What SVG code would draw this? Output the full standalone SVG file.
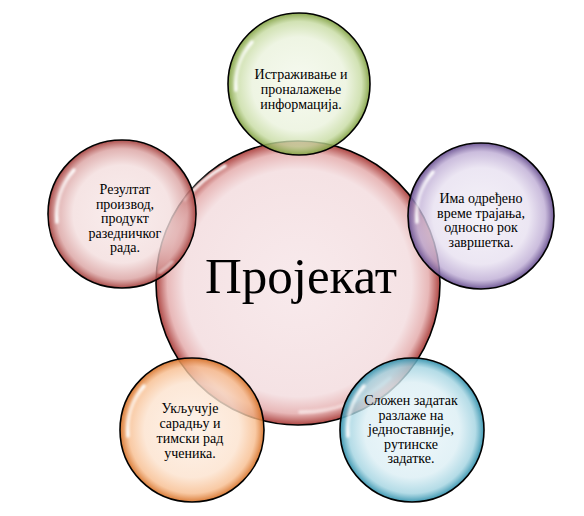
<svg xmlns="http://www.w3.org/2000/svg" width="584" height="516" viewBox="0 0 584 516">
<style>
.t{font-family:"Liberation Serif","Times New Roman","DejaVu Serif",serif;font-size:14px;fill:#000;text-anchor:middle}
.title{font-family:"Liberation Serif","Times New Roman","DejaVu Serif",serif;font-size:51px;fill:#000;text-anchor:middle}
.ring{stroke:#000;stroke-width:1.6}
.hl{fill:none;stroke:url(#hlg);stroke-width:3.5;stroke-linecap:round;filter:url(#bl)}
</style>
<defs>
<filter id="bl" x="-20%" y="-20%" width="140%" height="140%"><feGaussianBlur stdDeviation="0.9"/></filter>
<linearGradient id="hlg" x1="0" y1="0" x2="1" y2="1"><stop offset="0" stop-color="#fff" stop-opacity="0"/><stop offset="0.5" stop-color="#fff" stop-opacity="0.95"/><stop offset="1" stop-color="#fff" stop-opacity="0"/></linearGradient>
<radialGradient id="gC"><stop offset="0" stop-color="#f8eaec"/><stop offset="0.8" stop-color="#f5e2e4"/><stop offset="0.92" stop-color="#e8b8b8"/><stop offset="1" stop-color="#ae4744"/></radialGradient>
<radialGradient id="gG"><stop offset="0" stop-color="#f5f9ee" stop-opacity="0.85"/><stop offset="0.66" stop-color="#eaf2dc" stop-opacity="0.8"/><stop offset="0.88" stop-color="#c5da9f" stop-opacity="0.78"/><stop offset="1" stop-color="#80a040" stop-opacity="0.92"/></radialGradient>
<radialGradient id="gP"><stop offset="0" stop-color="#f3f0f7" stop-opacity="0.85"/><stop offset="0.66" stop-color="#e7e0f0" stop-opacity="0.8"/><stop offset="0.88" stop-color="#bcaad3" stop-opacity="0.78"/><stop offset="1" stop-color="#654c8e" stop-opacity="0.92"/></radialGradient>
<radialGradient id="gR"><stop offset="0" stop-color="#f8ebeb" stop-opacity="0.85"/><stop offset="0.66" stop-color="#f3dddd" stop-opacity="0.8"/><stop offset="0.88" stop-color="#d99f9e" stop-opacity="0.78"/><stop offset="1" stop-color="#a43e3b" stop-opacity="0.92"/></radialGradient>
<radialGradient id="gO"><stop offset="0" stop-color="#fdf1e8" stop-opacity="0.85"/><stop offset="0.66" stop-color="#fce2cd" stop-opacity="0.8"/><stop offset="0.88" stop-color="#f7bb8b" stop-opacity="0.78"/><stop offset="1" stop-color="#d67026" stop-opacity="0.92"/></radialGradient>
<radialGradient id="gB"><stop offset="0" stop-color="#eef7fa" stop-opacity="0.85"/><stop offset="0.66" stop-color="#dbeef4" stop-opacity="0.8"/><stop offset="0.88" stop-color="#9fd2e0" stop-opacity="0.78"/><stop offset="1" stop-color="#2e8fab" stop-opacity="0.92"/></radialGradient>
</defs>
<rect width="584" height="516" fill="#fff"/>

<g id="center">
<circle class="ring" cx="298" cy="283" r="142" fill="url(#gC)"/>
<path class="hl" d="M 185 200 A 132 132 0 0 1 225 166"/>
<path class="hl" d="M 300 412 A 130 130 0 0 0 390 378" opacity="0.6"/>
<text class="title" x="301" y="293">Пројекат</text>
</g>

<g id="n-green">
<circle class="ring" cx="299" cy="84" r="71" fill="url(#gG)"/>
<path class="hl" d="M 236 90 A 63 63 0 0 1 252 42"/>
<text class="t" x="301" y="79">Истраживање и</text>
<text class="t" x="301" y="94">проналажење</text>
<text class="t" x="301" y="109">информација.</text>
</g>

<g id="n-purple">
<circle class="ring" cx="481" cy="216" r="73" fill="url(#gP)"/>
<path class="hl" d="M 417 222 A 64 64 0 0 1 433 172"/>
<text class="t" x="481" y="203">Има одређено</text>
<text class="t" x="481" y="217.5">време трајања,</text>
<text class="t" x="481" y="232">односно рок</text>
<text class="t" x="481" y="246.5">завршетка.</text>
</g>

<g id="n-red">
<circle class="ring" cx="122" cy="214" r="74" fill="url(#gR)"/>
<path class="hl" d="M 57 222 A 66 66 0 0 1 74 170"/>
<path class="hl" d="M 172 262 A 66 66 0 0 1 160 272" opacity="0.5"/>
<text class="t" x="125" y="194">Резултат</text>
<text class="t" x="125" y="208.5">производ,</text>
<text class="t" x="125" y="223">продукт</text>
<text class="t" x="125" y="237.5">разедничког</text>
<text class="t" x="125" y="252">рада.</text>
</g>

<g id="n-orange">
<circle class="ring" cx="192" cy="430" r="72" fill="url(#gO)"/>
<path class="hl" d="M 128 436 A 64 64 0 0 1 144 386"/>
<text class="t" x="190" y="413">Укључује</text>
<text class="t" x="190" y="428">сарадњу и</text>
<text class="t" x="190" y="443">тимски рад</text>
<text class="t" x="190" y="457.5">ученика.</text>
</g>

<g id="n-blue">
<circle class="ring" cx="412" cy="430" r="72" fill="url(#gB)"/>
<path class="hl" d="M 348 436 A 64 64 0 0 1 364 386"/>
<text class="t" x="411" y="405">Сложен задатак</text>
<text class="t" x="411" y="419.5">разлаже на</text>
<text class="t" x="411" y="434">једноставније,</text>
<text class="t" x="411" y="448.5">рутинске</text>
<text class="t" x="411" y="463">задатке.</text>
</g>

<g id="connectors"></g>
</svg>
